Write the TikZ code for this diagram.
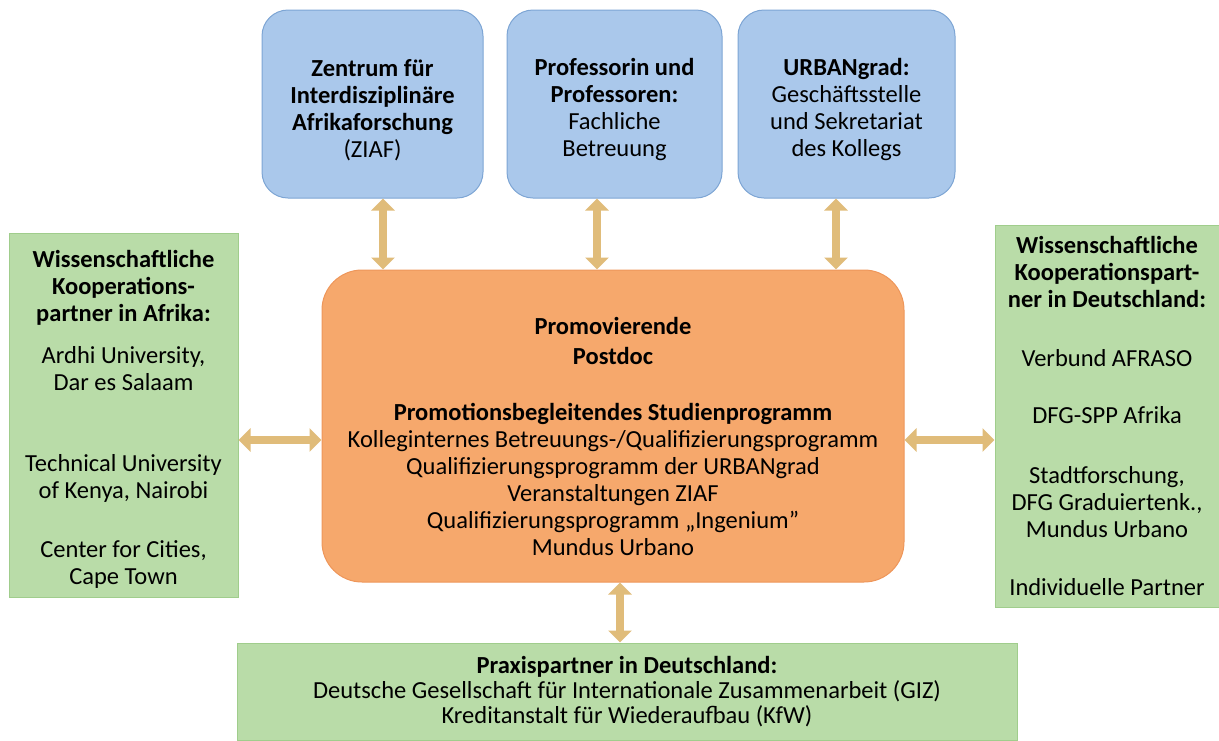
\documentclass[tikz,border=0pt]{standalone}
\usepackage{fontspec}
\setmainfont{Carlito}
\usetikzlibrary{arrows.meta}
\definecolor{bluefill}{RGB}{170,200,235}
\definecolor{blueline}{RGB}{125,165,212}
\definecolor{orangefill}{RGB}{246,168,108}
\definecolor{orangeline}{RGB}{238,150,90}
\definecolor{greenfill}{RGB}{185,220,168}
\definecolor{greenline}{RGB}{160,205,140}
\definecolor{arrowtan}{RGB}{224,188,122}
\tikzset{
  bluebox/.style={draw=blueline, fill=bluefill, line width=1pt, rounded corners=26pt, inner sep=0pt},
  orangebox/.style={draw=orangeline, fill=orangefill, line width=1pt, rounded corners=40pt, inner sep=0pt},
  greenbox/.style={draw=greenline, fill=greenfill, line width=1pt, inner sep=0pt},
  dblarrow/.style={draw=arrowtan, line width=8.5pt, {Triangle[width=23pt,length=12pt]}-{Triangle[width=23pt,length=12pt]}},
  txt/.style={font=\fontsize{24.5}{27}\selectfont, align=center, inner sep=0pt}
}
\begin{document}
\begin{tikzpicture}[x=1pt,y=-1pt]
\useasboundingbox (0,0) rectangle (1219,740);
% top blue boxes
\node[bluebox, minimum width=221pt, minimum height=188pt] (zi) at (372.5,104) {};
\node[txt, yshift=-6pt] (zit) at (zi.center)
  {\textbf{Zentrum für}\\ \textbf{Interdisziplinäre}\\ \textbf{Afrikaforschung}\\ (ZIAF)};
\node[bluebox, minimum width=215pt, minimum height=188pt] (pr) at (614.5,104) {};
\node[txt, yshift=-6pt] (prt) at (pr.center)
  {\textbf{Professorin und}\\ \textbf{Professoren:}\\ Fachliche\\ Betreuung};
\node[bluebox, minimum width=217pt, minimum height=188pt] (ur) at (846.5,104) {};
\node[txt, yshift=-6pt] (urt) at (ur.center)
  {\textbf{URBANgrad:}\\ Geschäftsstelle\\ und Sekretariat\\ des Kollegs};
% centre orange box
\node[orangebox, minimum width=582pt, minimum height=312pt] (po) at (613,426) {};
\node[txt, yshift=-10pt] (pot) at (po.center)
  {\textbf{Promovierende}\\[3pt] \textbf{Postdoc}\\[29pt]
   \textbf{Promotionsbegleitendes Studienprogramm}\\
   Kolleginternes Betreuungs-/Qualifizierungsprogramm\\
   Qualifizierungsprogramm der URBANgrad\\
   Veranstaltungen ZIAF\\
   Qualifizierungsprogramm „Ingenium”\\
   Mundus Urbano};
% left green box
\node[greenbox, minimum width=229pt, minimum height=364pt] (lg) at (123.5,415) {};
\node[txt, yshift=-4pt] (lgt) at (lg.center)
  {\textbf{Wissenschaftliche}\\ \textbf{Kooperations-}\\ \textbf{partner in Afrika:}\\[15pt]
   Ardhi University,\\ Dar es Salaam\\[54pt]
   Technical University\\ of Kenya, Nairobi\\[32pt]
   Center for Cities,\\ Cape Town};
% right green box
\node[greenbox, minimum width=224pt, minimum height=382pt] (rg) at (1107,416) {};
\node[txt, yshift=0.5pt] (rgt) at (rg.center)
  {\textbf{Wissenschaftliche}\\ \textbf{Kooperationspart-}\\ \textbf{ner in Deutschland:}\\[32pt]
   Verbund AFRASO\\[30pt]
   DFG-SPP Afrika\\[33pt]
   Stadtforschung,\\ DFG Graduiertenk.,\\ Mundus Urbano\\[31pt]
   Individuelle Partner};
% bottom green box
\node[greenbox, minimum width=780pt, minimum height=97pt] (bg) at (627,691.5) {};
\node[txt, font=\fontsize{24.5}{25}\selectfont] (bgt) at (bg.center)
  {\textbf{Praxispartner in Deutschland:}\\
   Deutsche Gesellschaft für Internationale Zusammenarbeit (GIZ)\\
   Kreditanstalt für Wiederaufbau (KfW)};
% arrow guide coordinates
\coordinate (a1) at (383,0);
\coordinate (a2) at (597,0);
\coordinate (a3) at (836,0);
\coordinate (a4) at (620,0);
\coordinate (a5) at (0,440);
% arrows
\draw[dblarrow] (zi.south -| a1) -- (po.north -| a1);
\draw[dblarrow] (pr.south -| a2) -- (po.north -| a2);
\draw[dblarrow] (ur.south -| a3) -- (po.north -| a3);
\draw[dblarrow] (po.south -| a4) -- (bg.north -| a4);
\draw[dblarrow] (lg.east |- a5) -- (po.west |- a5);
\draw[dblarrow] (po.east |- a5) -- (rg.west |- a5);
\end{tikzpicture}
\end{document}
